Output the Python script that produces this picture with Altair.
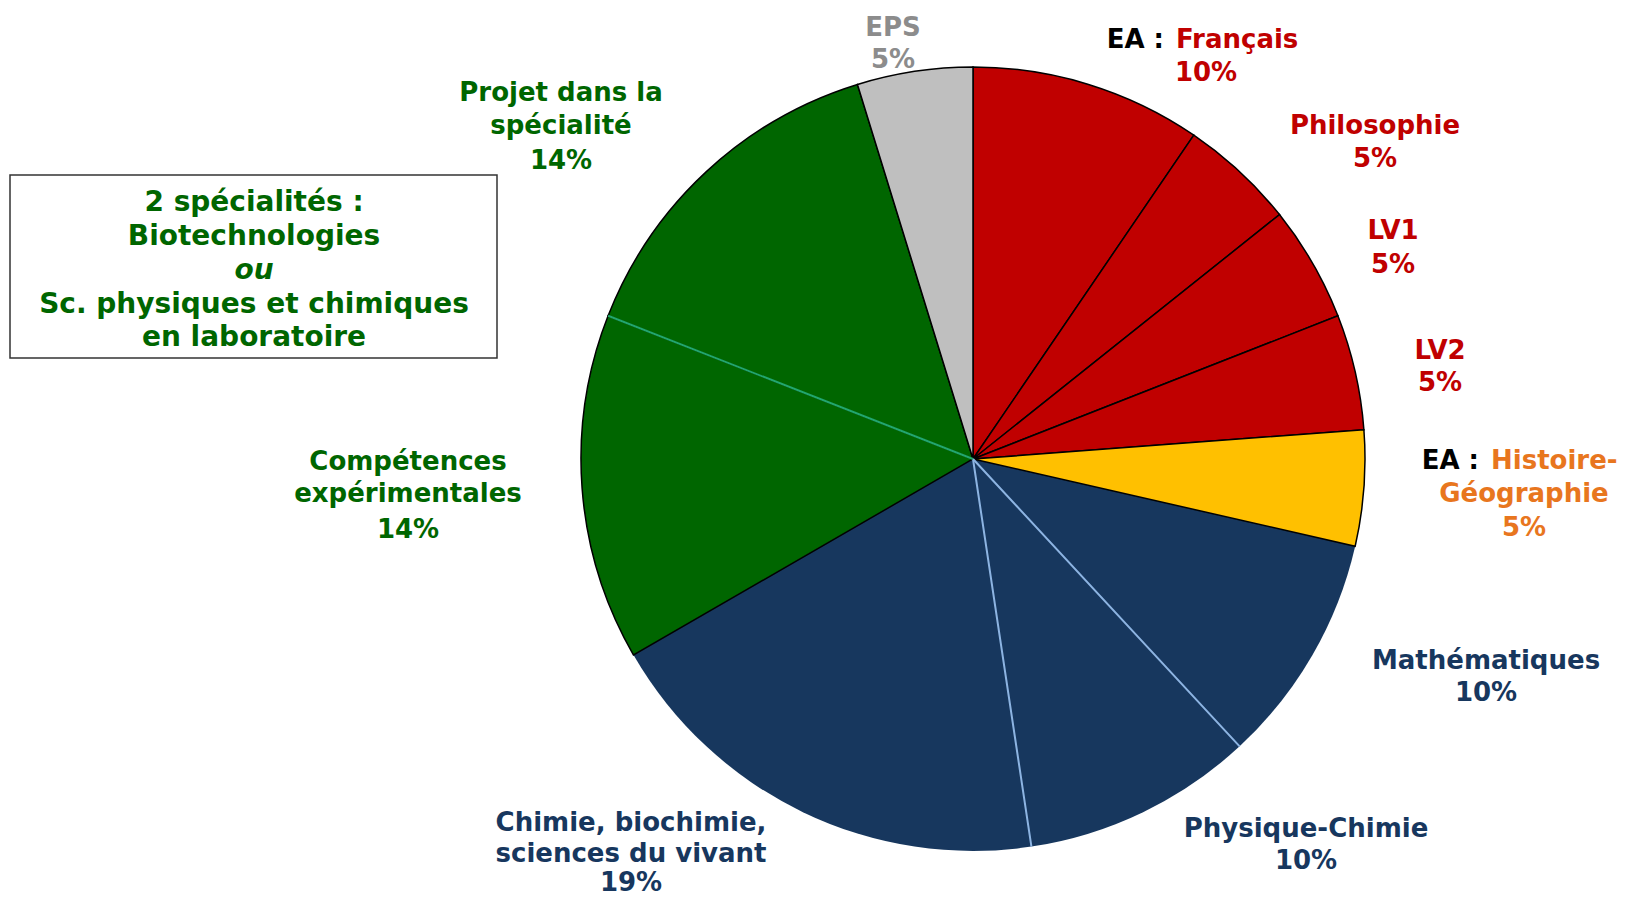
import math
import altair as alt
import pandas as pd

# ---------------- data ----------------
subjects = ["EA : Français", "Philosophie", "LV1", "LV2", "EA : Histoire-Géographie",
            "Mathématiques", "Physique-Chimie", "Chimie, biochimie, sciences du vivant",
            "Compétences expérimentales", "Projet dans la spécialité", "EPS"]
hours = [2, 1, 1, 1, 1, 2, 2, 4, 3, 3, 1]
percents = ["10%", "5%", "5%", "5%", "5%", "10%", "10%", "19%", "14%", "14%", "5%"]
groups = ["lettres", "lettres", "lettres", "lettres", "histoire",
          "sciences", "sciences", "sciences", "specialite", "specialite", "eps"]

box_lines = ["2 spécialités :", "Biotechnologies", "ou", "Sc. physiques et chimiques", "en laboratoire"]

# ---------------- styles ----------------
group_domain = ["lettres", "histoire", "sciences", "specialite", "eps"]
group_fill = ["#C00000", "#FFC000", "#17375E", "#006600", "#BFBFBF"]
sep_domain = ["sciences", "specialite"]
sep_stroke = ["#8DB4E2", "#22A86E"]
text_colors = {"red": "#C00000", "orange": "#E8761E", "navy": "#17375E",
               "green": "#006600", "grey": "#8C8C8C", "black": "#000000"}

M = 8  # page margin
CX, CY, R = 973 - M, 459 - M, 392
FONT = "DejaVu Sans"
FS = 26
FS_BOX = 28

total = sum(hours)
df = pd.DataFrame({"idx": list(range(len(subjects))), "subject": subjects,
                   "hours": hours, "percent": percents, "group": groups})
df["sep"] = [i > 0 and groups[i] == groups[i - 1] and groups[i] in sep_domain
             for i in range(len(groups))]

# label layout: (text, colour, page x, page y, align)
label_items = [
    ("EPS", "grey", 893, 28, "center"), ("5%", "grey", 893, 60, "center"),
    ("EA :", "black", 1164, 40, "right"), ("Français", "red", 1176, 40, "left"),
    ("10%", "red", 1206, 73, "center"),
    ("Philosophie", "red", 1375, 126, "center"), ("5%", "red", 1375, 159, "center"),
    ("LV1", "red", 1393, 231, "center"), ("5%", "red", 1393, 265, "center"),
    ("LV2", "red", 1440, 351, "center"), ("5%", "red", 1440, 383, "center"),
    ("EA :", "black", 1479, 461, "right"), ("Histoire-", "orange", 1491, 461, "left"),
    ("Géographie", "orange", 1524, 494, "center"), ("5%", "orange", 1524, 528, "center"),
    ("Mathématiques", "navy", 1486, 661, "center"), ("10%", "navy", 1486, 693, "center"),
    ("Physique-Chimie", "navy", 1306, 829, "center"), ("10%", "navy", 1306, 861, "center"),
    ("Chimie, biochimie,", "navy", 631, 823, "center"),
    ("sciences du vivant", "navy", 631, 854, "center"),
    ("19%", "navy", 631, 883, "center"),
    ("Compétences", "green", 408, 462, "center"), ("expérimentales", "green", 408, 494, "center"),
    ("14%", "green", 408, 530, "center"),
    ("Projet dans la", "green", 561, 93, "center"), ("spécialité", "green", 561, 126, "center"),
    ("14%", "green", 561, 161, "center"),
]
box_y = [203, 237, 271, 305, 338]

lab = pd.DataFrame(label_items, columns=["text", "tc", "px", "py", "align"])
lab["tc"] = lab["tc"].map(text_colors)
lab["px"] = lab["px"] - M
lab["py"] = lab["py"] - M

box = pd.DataFrame({"text": box_lines, "py": [y - M for y in box_y]})
box["italic"] = box["text"] == "ou"

# ---------------- chart ----------------
base = alt.Chart(df).transform_window(
    cum="sum(hours)", sort=[alt.SortField("idx")], frame=[None, 0]
).transform_calculate(start="datum.cum - datum.hours")

theta = alt.Theta("start:Q", scale=alt.Scale(domain=[0, total], range=[0, 2 * math.pi]), stack=None)
fill = alt.Fill("group:N", scale=alt.Scale(domain=group_domain, range=group_fill), legend=None)

navy = base.transform_filter(alt.datum.group == "sciences").mark_arc(
    radius=R, strokeWidth=0
).encode(theta=theta, theta2="cum:Q", fill=fill, x=alt.value(CX), y=alt.value(CY))

others = base.transform_filter(alt.datum.group != "sciences").mark_arc(
    radius=R, stroke="#000000", strokeWidth=1.5
).encode(theta=theta, theta2="cum:Q", fill=fill, x=alt.value(CX), y=alt.value(CY))

seps = base.transform_filter(alt.datum.sep).mark_arc(
    radius=R, strokeWidth=2, fillOpacity=0
).encode(theta=theta, theta2="start:Q",
         stroke=alt.Stroke("group:N", scale=alt.Scale(domain=sep_domain, range=sep_stroke), legend=None),
         x=alt.value(CX), y=alt.value(CY))

def text_layer(align):
    return alt.Chart(lab).transform_filter(alt.datum.align == align).mark_text(
        font=FONT, fontSize=FS, fontWeight="bold", align=align, baseline="middle"
    ).encode(text="text:N", x=alt.X("px:Q", scale=None), y=alt.Y("py:Q", scale=None),
             color=alt.Color("tc:N", scale=None))

rect = alt.Chart(pd.DataFrame({"k": [0]})).mark_rect(
    fill="white", stroke="#333333", strokeWidth=1.5
).encode(x=alt.value(10 - M), x2=alt.value(497 - M), y=alt.value(175 - M), y2=alt.value(358 - M))

box_txt = alt.Chart(box).transform_filter(~alt.datum.italic).mark_text(
    font=FONT, fontSize=FS_BOX, fontWeight="bold", align="center", baseline="middle", color="#006600"
).encode(text="text:N", x=alt.value(254 - M), y=alt.Y("py:Q", scale=None))

box_it = alt.Chart(box).transform_filter(alt.datum.italic).mark_text(
    font=FONT, fontSize=FS_BOX, fontWeight="bold", fontStyle="italic", align="center",
    baseline="middle", color="#006600"
).encode(text="text:N", x=alt.value(254 - M), y=alt.Y("py:Q", scale=None))

chart = alt.layer(
    navy, others, seps,
    text_layer("center"), text_layer("left"), text_layer("right"),
    rect, box_txt, box_it
).properties(
    width=1610, height=892, padding=0, autosize="none", background="white"
).configure_view(stroke=None)

chart.save("out.html", embed_options={"renderer": "svg", "actions": False})
